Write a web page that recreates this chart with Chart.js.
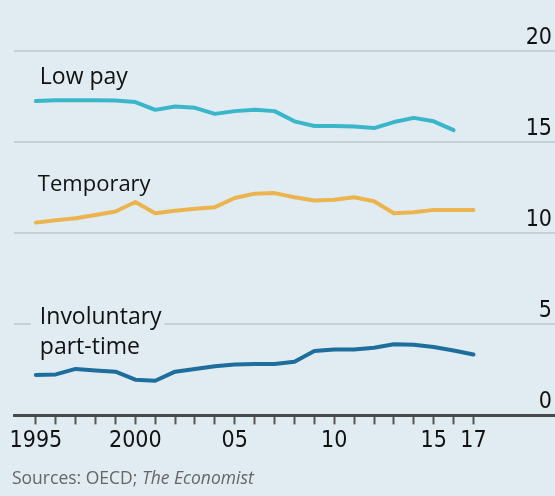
<!DOCTYPE html>
<html>
<head>
<meta charset="utf-8">
<script src="https://cdn.jsdelivr.net/npm/chart.js@4.4.1/dist/chart.umd.min.js"></script>
<style>
  html, body { margin: 0; padding: 0; background: #e1ebf2; }
  #wrap { width: 555px; height: 496px; position: relative; }
</style>
</head>
<body>
<div id="wrap"><canvas id="c" width="555" height="496"></canvas></div>
<script>
const years = [1995,1996,1997,1998,1999,2000,2001,2002,2003,2004,2005,2006,2007,2008,2009,2010,2011,2012,2013,2014,2015,2016,2017];
const lowPay = [17.25,17.3,17.3,17.3,17.28,17.2,16.77,16.95,16.88,16.55,16.7,16.78,16.7,16.14,15.88,15.88,15.86,15.77,16.1,16.33,16.14,15.66,null];
const temporary = [10.58,10.71,10.82,11.0,11.19,11.71,11.1,11.23,11.34,11.43,11.93,12.17,12.2,11.97,11.8,11.84,11.97,11.75,11.1,11.15,11.28,11.28,11.28];
const involuntary = [2.22,2.25,2.55,2.47,2.4,1.96,1.9,2.4,2.55,2.7,2.8,2.82,2.82,2.95,3.53,3.62,3.62,3.71,3.9,3.88,3.75,3.56,3.34];
const xTickLabels = {1995:'1995', 2000:'2000', 2005:'05', 2010:'10', 2015:'15', 2017:'17'};
const yTicks = [0,5,10,15,20];
const seriesNames = ['Low pay', 'Temporary', 'Involuntary|part-time'];
const seriesColors = ['#3ab6ca', '#ebb44e', '#1d6d9d'];
const sourceText = ['Sources: OECD; ', 'The Economist'];

const tickFont = '"Liberation Sans Narrow", "DejaVu Sans Condensed", "Roboto Condensed", sans-serif';
const labelFont = '"Open Sans", "Noto Sans", sans-serif';
const BG = '#e1ebf2';

const toXY = arr => years.map((y, i) => ({x: y, y: arr[i]}));

// label anchors in data coordinates (x year, y value for baseline)
const labelAnchors = [
  {x: 1995.2, y: 18.2},
  {x: 1995.1, y: 12.3},
  {x: 1995.2, y: 5.0}
];

const labelPlugin = {
  id: 'seriesLabels',
  afterDatasetsDraw(chart) {
    const ctx = chart.ctx;
    const xs = chart.scales.x, ys = chart.scales.y;
    ctx.save();
    ctx.textBaseline = 'alphabetic';
    ctx.textAlign = 'left';
    seriesNames.forEach((name, i) => {
      ctx.font = (i === 1 ? '22px ' : '23px ') + labelFont;
      const lines = name.split('|');
      const px = xs.getPixelForValue(labelAnchors[i].x);
      const py = ys.getPixelForValue(labelAnchors[i].y);
      const lh = 30;
      if (lines.length > 1) {
        let w = 0;
        lines.forEach(l => { w = Math.max(w, ctx.measureText(l).width); });
        ctx.fillStyle = BG;
        ctx.fillRect(px - 9, py - 20, w + 12, lh * lines.length);
      }
      ctx.fillStyle = '#111';
      lines.forEach((l, k) => ctx.fillText(l, px, py + k * lh));
    });
    // source
    ctx.fillStyle = '#666';
    ctx.font = '17.5px ' + labelFont;
    ctx.fillText(sourceText[0], 12, 484);
    const w0 = ctx.measureText(sourceText[0]).width;
    ctx.font = 'italic 17.5px ' + labelFont;
    ctx.fillText(sourceText[1], 12 + w0, 484);
    ctx.restore();
  }
};

new Chart(document.getElementById('c'), {
  type: 'line',
  data: {
    datasets: [lowPay, temporary, involuntary].map((arr, i) => ({
      label: seriesNames[i].replace('|', ' '),
      data: toXY(arr),
      borderColor: seriesColors[i],
      backgroundColor: seriesColors[i],
      borderWidth: 4,
      pointRadius: 0,
      tension: 0,
      borderJoinStyle: 'round',
      borderCapStyle: 'round',
      spanGaps: false
    }))
  },
  options: {
    responsive: false,
    animation: false,
    layout: { padding: { left: 14, top: 51, right: 0, bottom: 38 } },
    plugins: { legend: { display: false }, tooltip: { enabled: false } },
    scales: {
      x: {
        type: 'linear',
        min: 1993.9,
        max: 2021.1,
        afterBuildTicks: s => { s.ticks = years.map(v => ({value: v})); },
        grid: { drawOnChartArea: false, drawTicks: true, tickLength: 9, tickColor: '#555', tickWidth: 2 },
        border: { display: true, color: '#4a4a4a', width: 3 },
        ticks: {
          autoSkip: false, maxRotation: 0, padding: 3,
          color: '#111',
          font: { family: tickFont, size: 23 },
          callback: v => xTickLabels[v] || ''
        }
      },
      y: {
        position: 'right',
        min: 0, max: 20,
        afterBuildTicks: s => { s.ticks = yTicks.map(v => ({value: v})); },
        afterFit: s => { s.width = 0; },
        grid: { color: '#c4cfd7', lineWidth: 2, drawTicks: false },
        border: { display: false },
        ticks: {
          mirror: true, padding: -3, labelOffset: -13,
          color: '#111',
          font: { family: tickFont, size: 23 }
        }
      }
    }
  },
  plugins: [labelPlugin]
});
</script>
</body>
</html>
